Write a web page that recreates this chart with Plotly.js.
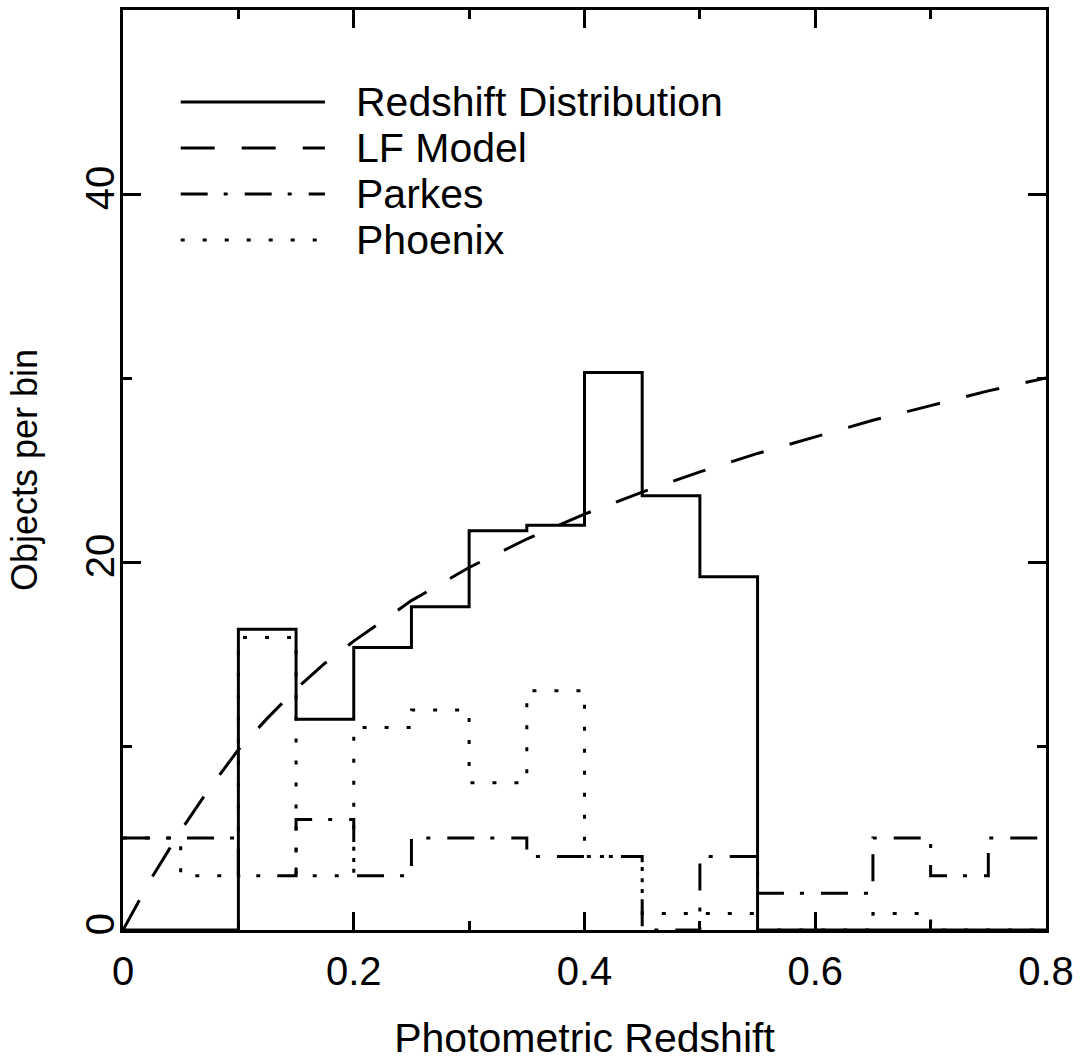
<!DOCTYPE html>
<html><head><meta charset="utf-8">
<script src="https://cdn.plot.ly/plotly-3.0.1.min.js"></script>
<style>html,body{margin:0;padding:0;background:#fff}#chart{width:1080px;height:1061px}</style>
</head><body><div id="chart"></div>
<script>
// ---- data ----
const binLeft = [0, 0.05, 0.10, 0.15, 0.20, 0.25, 0.30, 0.35, 0.40, 0.45, 0.50, 0.55, 0.60, 0.65, 0.70, 0.75];
const binRightEdge = 0.8;
const redshiftDist = [0, 0, 16.35, 11.45, 15.36, 17.57, 21.7, 22.0, 30.3, 23.6, 19.2, 0, 0, 0, 0, 0];
const parkes       = [5.0, 5.0, 2.95, 6.0, 2.95, 5.0, 5.0, 4.0, 4.0, 0, 4.0, 2.0, 2.0, 5.0, 2.95, 5.0];
const phoenix      = [5.0, 2.95, 15.9, 2.95, 11.0, 11.95, 8.0, 13.0, 4.0, 0.9, 0.9, 0, 0, 0.9, 0, 0];
const lfZ = [0, 0.025, 0.05, 0.075, 0.1, 0.125, 0.15, 0.175, 0.2, 0.25, 0.3, 0.35, 0.4, 0.45, 0.5, 0.55, 0.6, 0.65, 0.7, 0.75, 0.8];
const lfN = [0, 2.85, 5.4, 7.7, 9.8, 11.5, 13.1, 14.5, 15.7, 17.9, 19.7, 21.25, 22.6, 23.8, 24.9, 25.9, 26.8, 27.7, 28.5, 29.3, 30.0];
const seriesNames = ['Redshift Distribution', 'LF Model', 'Parkes', 'Phoenix'];
const xTickVals = [0, 0.2, 0.4, 0.6, 0.8];
const xTickText = ['0', '0.2', '0.4', '0.6', '0.8'];
const yTickVals = [0, 20, 40];
const yTickText = ['0', '20', '40'];
const xTitle = 'Photometric Redshift';
const yTitle = 'Objects per bin';

// ---- styles ----
const FONT = 'Liberation Sans, Arial, sans-serif';
const FS = 40;
const LW = 3;
const dashes = ['solid', '34px,27px', '27px,16px,4px,17px', '4px,18px'];

function steps(v) {
  return { x: binLeft.concat([binRightEdge]), y: v.concat([v[v.length - 1]]) };
}

const histSeries = [redshiftDist, null, parkes, phoenix];
const traces = [];
[0, 2, 3].forEach(i => {
  const s = steps(histSeries[i]);
  traces.push({ type: 'scatter', mode: 'lines', x: s.x, y: s.y, name: seriesNames[i],
    line: { shape: 'hv', color: '#000', width: LW, dash: dashes[i] }, showlegend: false, hoverinfo: 'skip' });
});
traces.push({ type: 'scatter', mode: 'lines', x: lfZ, y: lfN, name: seriesNames[1],
  line: { shape: 'linear', color: '#000', width: LW, dash: dashes[1] }, showlegend: false, hoverinfo: 'skip' });

// legend drawn in data space (as in the original plot)
const legendLineX = [0.05, 0.175];
const legendTextX = 0.2;
const legendY = [45, 42.5, 40, 37.5];
const shapes = legendY.map((y, i) => ({ type: 'line', xref: 'x', yref: 'y',
  x0: legendLineX[0], x1: legendLineX[1], y0: y, y1: y, line: { color: '#000', width: LW, dash: dashes[i] } }));
const annotations = legendY.map((y, i) => ({ xref: 'x', yref: 'y', x: legendTextX, y: y, text: seriesNames[i],
  showarrow: false, xanchor: 'left', yanchor: 'middle', font: { family: FONT, size: 41, color: '#000' } }));

const axisCommon = {
  showline: true, linewidth: LW, linecolor: '#000', mirror: 'ticks', ticks: 'inside',
  ticklen: 18, tickwidth: LW, tickcolor: '#000', showgrid: false, zeroline: false,
  tickfont: { family: FONT, size: FS, color: '#000' }, tickmode: 'array', fixedrange: true
};

const layout = {
  width: 1080, height: 1061,
  margin: { l: 123, r: 34, t: 10, b: 131 },
  paper_bgcolor: '#fff', plot_bgcolor: '#fff',
  font: { family: FONT, size: FS, color: '#000' },
  xaxis: Object.assign({}, axisCommon, {
    range: [0, 0.8], tickvals: xTickVals, ticktext: xTickText, ticklabelstandoff: 4,
    minor: { dtick: 0.1, tick0: 0, ticklen: 9, tickwidth: LW, tickcolor: '#000', ticks: 'inside', showgrid: false },
    title: { text: xTitle, font: { family: FONT, size: 41, color: '#000' }, standoff: 32 }
  }),
  yaxis: Object.assign({}, axisCommon, {
    range: [0, 50], tickvals: yTickVals, ticktext: yTickText, tickangle: -90, ticklabelstandoff: -10,
    minor: { dtick: 10, tick0: 0, ticklen: 9, tickwidth: LW, tickcolor: '#000', ticks: 'inside', showgrid: false },
    title: { text: yTitle, font: { family: FONT, size: 36, color: '#000' }, standoff: 30 }
  }),
  shapes: shapes,
  annotations: annotations,
  showlegend: false
};

Plotly.newPlot('chart', traces, layout, { staticPlot: true, displayModeBar: false });
</script>
</body></html>
